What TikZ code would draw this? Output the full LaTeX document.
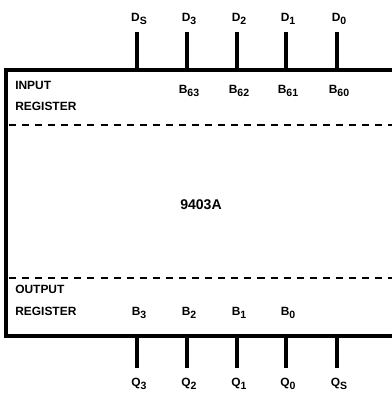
\documentclass[tikz,border=0pt]{standalone}
\usepackage{fontspec}
\setmainfont{Liberation Sans}
\usetikzlibrary{positioning}

\newcommand{\pinsub}[1]{\raisebox{-0.55ex}{\fontsize{7.5}{8}\selectfont #1}}

\tikzset{
  lab/.style={font=\fontsize{8.5}{10}\selectfont\bfseries, inner sep=0pt},
  pinlab/.style={lab},
  pin line/.style={line width=2.2pt},
  box line/.style={line width=2.4pt},
  sep line/.style={line width=1.4pt, dash pattern=on 5pt off 4.3pt}
}

\begin{document}
\begin{tikzpicture}[x=0.025cm, y=-0.025cm]

\useasboundingbox (0,0) rectangle (392,396);

% Chip outline (open on the right)
\draw[box line] (392,70) -- (6,70) -- (6,336) -- (392,336);

% Register boundaries
\draw[sep line] (9,125) -- (392,125);
\draw[sep line] (9,278) -- (392,278);

% Register names
\node[lab, anchor=west] (inreg1) at (15,85) {INPUT};
\node[lab, anchor=west] (inreg2) at (15,106) {REGISTER};
\node[lab, anchor=west] (outreg1) at (15,289) {OUTPUT};
\node[lab, anchor=west] (outreg2) at (15,311) {REGISTER};

% Device name
\node[lab, font=\fontsize{10}{12}\selectfont\bfseries] (dev) at (201,205) {9403A};

% Input pins
\foreach \x/\sub/\n in {137/S/ds, 187/3/d3, 237/2/d2, 286/1/d1, 337/0/d0} {
  \node[pinlab] (\n) at (\x+2,19) {D\pinsub{\sub}};
  \coordinate (\n-a) at (\x,32);
  \coordinate (\n-b) at (\x,70);
  \draw[pin line] (\n-a) -- (\n-b);
}

% Input bits
\foreach \x/\sub/\n in {187/63/b63, 237/62/b62, 286/61/b61, 337/60/b60} {
  \node[pinlab] (\n) at (\x+2,91) {B\pinsub{\sub}};
}

% Output bits
\foreach \x/\sub/\n in {137/3/b3, 187/2/b2, 237/1/b1, 286/0/b0} {
  \node[pinlab] (\n) at (\x+2,313) {B\pinsub{\sub}};
}

% Output pins
\foreach \x/\sub/\n in {137/3/q3, 187/2/q2, 237/1/q1, 286/0/q0, 337/S/qs} {
  \coordinate (\n-a) at (\x,336);
  \coordinate (\n-b) at (\x,368);
  \draw[pin line] (\n-a) -- (\n-b);
  \node[pinlab] (\n) at (\x+2,384) {Q\pinsub{\sub}};
}

\end{tikzpicture}
\end{document}
